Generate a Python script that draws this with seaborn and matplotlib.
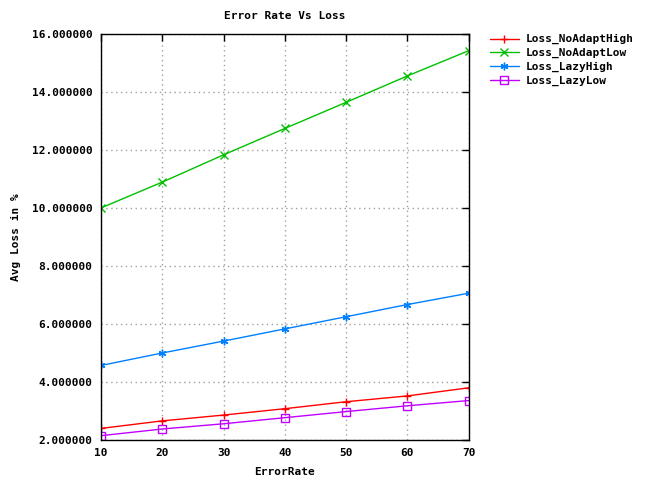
import matplotlib
matplotlib.use('Agg')
import matplotlib.pyplot as plt
import seaborn as sns
import pandas as pd
from matplotlib.ticker import FormatStrFormatter, MultipleLocator

error_rate = [10, 20, 30, 40, 50, 60, 70]
loss_noadapt_high = [2.40, 2.66, 2.86, 3.08, 3.32, 3.52, 3.80]
loss_noadapt_low = [10.0, 10.89, 11.83, 12.74, 13.64, 14.55, 15.42]
loss_lazy_high = [4.57, 5.00, 5.41, 5.83, 6.25, 6.67, 7.06]
loss_lazy_low = [2.15, 2.38, 2.56, 2.77, 2.98, 3.18, 3.36]

series = {
    'Loss_NoAdaptHigh': loss_noadapt_high,
    'Loss_NoAdaptLow': loss_noadapt_low,
    'Loss_LazyHigh': loss_lazy_high,
    'Loss_LazyLow': loss_lazy_low,
}
colors = ['#ff0000', '#00c000', '#0080ff', '#c000ff']
markers = ['+', 'x', (6, 2, 0), 's']

df = pd.DataFrame({'ErrorRate': error_rate, **series})
long = df.melt(id_vars='ErrorRate', var_name='series', value_name='loss')

sns.set_theme(style='white')
plt.rcParams['font.family'] = ['DejaVu Sans Mono']
plt.rcParams['font.weight'] = 'bold'
plt.rcParams['text.color'] = 'black'
plt.rcParams['axes.labelcolor'] = 'black'
plt.rcParams['xtick.color'] = 'black'
plt.rcParams['ytick.color'] = 'black'

fig = plt.figure(figsize=(6.52, 4.83), dpi=100)
ax = fig.add_axes([0.155, 0.089, 0.564, 0.841])

for (name, vals), c, m in zip(series.items(), colors, markers):
    sub = long[long['series'] == name]
    sns.lineplot(data=sub, x='ErrorRate', y='loss', ax=ax, color=c, lw=1,
                 marker=m, markersize=5.5, markerfacecolor='none',
                 markeredgecolor=c, markeredgewidth=1, label=name)

ax.set_xlim(10, 70)
ax.set_ylim(2, 16)
ax.xaxis.set_major_locator(MultipleLocator(10))
ax.yaxis.set_major_locator(MultipleLocator(2))
ax.yaxis.set_major_formatter(FormatStrFormatter('%f'))
ax.grid(True, color='#a0a0a0', linestyle=(0, (1, 2.5)), lw=1)
ax.tick_params(direction='in', length=5, width=1, top=True, right=True,
               labelsize=8, pad=6)
for s in ax.spines.values():
    s.set_color('black')
    s.set_linewidth(1)

ax.set_title('Error Rate Vs Loss', fontsize=8, fontweight='bold', pad=11)
ax.set_xlabel('ErrorRate', fontsize=8, fontweight='bold', labelpad=6)
ax.set_ylabel('Avg Loss in %', fontsize=8, fontweight='bold', labelpad=8)

ax.legend(loc='upper left', bbox_to_anchor=(1.045, 1.01), frameon=False,
          fontsize=8, handlelength=2.6, handletextpad=0.6, labelspacing=0.32,
          handleheight=0.5, borderaxespad=0)

fig.savefig('out.png', dpi=100)
